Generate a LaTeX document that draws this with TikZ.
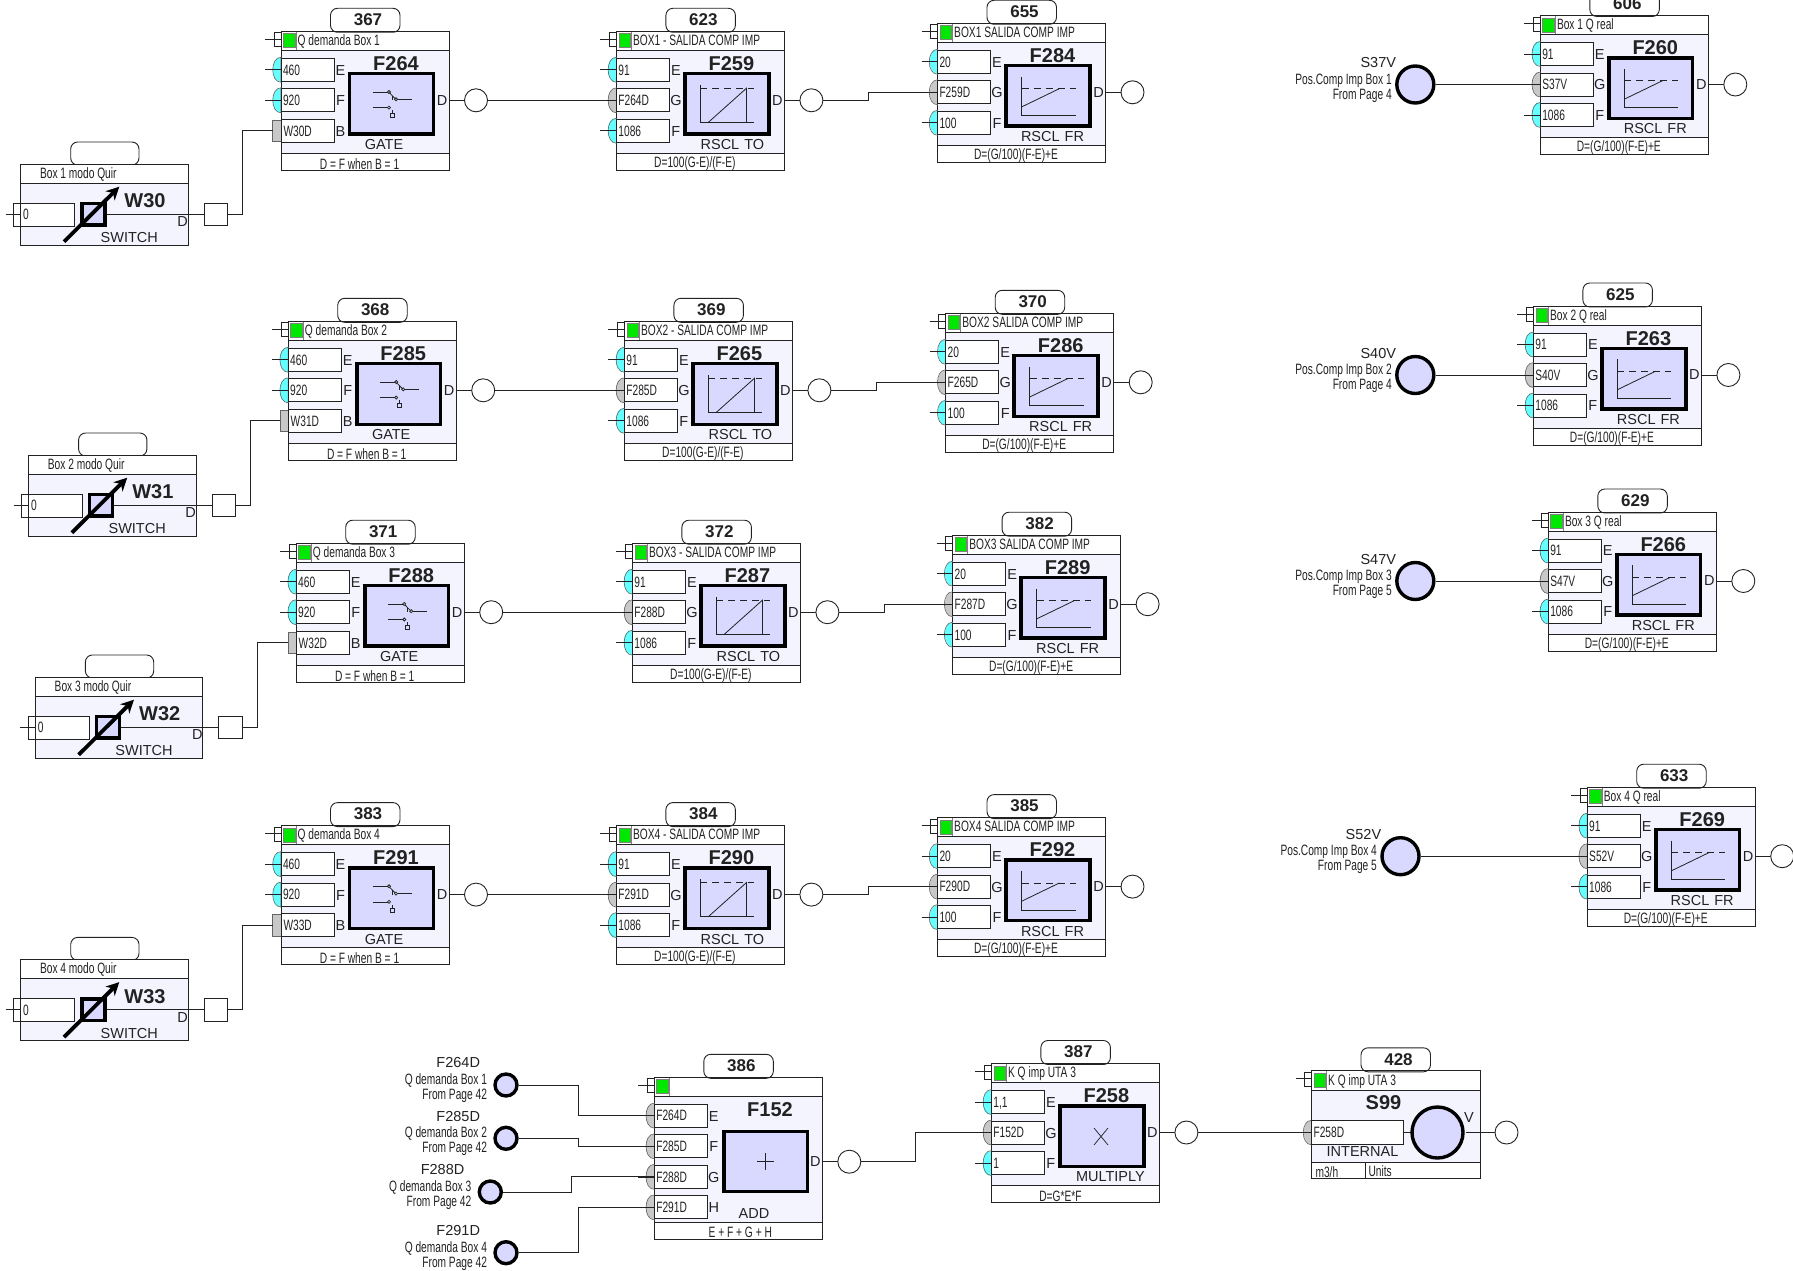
\documentclass[tikz,border=0pt]{standalone}
\usepackage{fontspec}
\setmainfont{Liberation Sans}
\newfontfamily\narrowf[FakeStretch=0.68]{Liberation Sans}
\usetikzlibrary{arrows.meta}
\definecolor{bodyc}{HTML}{F4F4FF}
\definecolor{iconc}{HTML}{D9D9FF}
\definecolor{cyanc}{HTML}{66FFFF}
\definecolor{grayc}{HTML}{C8C8C8}
\definecolor{greenc}{HTML}{00E800}
\definecolor{linec}{HTML}{222222}
\newcommand\nrw{\narrowf\fontsize{15}{15}\selectfont}
\newcommand\reg{\fontsize{14.5}{14.5}\selectfont}
\tikzset{
  ln/.style={draw=linec,line width=0.8pt},
  wire/.style={draw=linec,line width=0.9pt},
  boxln/.style={draw=linec,line width=0.9pt},
  txtn/.style={inner sep=0pt,outer sep=0pt,font=\nrw,text=linec},
  txtr/.style={inner sep=0pt,outer sep=0pt,font=\reg,text=linec},
  titlet/.style={inner sep=0pt,outer sep=0pt,font=\fontsize{20}{20}\selectfont\bfseries,text=linec},
  tagt/.style={inner sep=0pt,outer sep=0pt,font=\fontsize{17}{17}\selectfont\bfseries,text=linec},
  outc/.style={circle,draw=linec,line width=0.9pt,fill=white,minimum size=23pt,inner sep=0pt},
  outs/.style={rectangle,draw=linec,line width=0.9pt,fill=white,minimum width=23.7pt,minimum height=22.7pt,inner sep=0pt},
  srcc/.style={circle,draw=black,line width=3.4pt,fill=iconc,inner sep=0pt},
  iconb/.style={draw=black,line width=3.6pt,fill=iconc},
  ic/.style={draw=linec,line width=0.8pt},
  tagb/.style={draw=linec,line width=0.9pt,fill=white,rounded corners=7pt},
}
% tag, header stub and green light: id, tag, header
\newcommand\taghead[3]{%
  \draw[tagb] (49.5,-23) rectangle (119,1);
  \node[tagt] (#1-tag) at (87,-11.5) {#2};
  \draw[ln] (-16,8) -- (0,8);
  \draw[ln] (0,1.5) -- (-7,1.5) -- (-7,15.5) -- (0,15.5);
  \fill[greenc,draw=gray,line width=0.7pt] (2.5,2.5) rectangle (14,16.5);
  \draw[gray,line width=0.7pt] (15,0) -- (15,19);
  \node[txtn,anchor=base west] (#1-head) at (16.7,14.3) {#3};
}
% general block: id, x, y, tag, header, title, type label, label x, footer
\newcommand\blockbase[9]{%
  \begin{scope}[shift={(#2,#3)}]
  \taghead{#1}{#4}{#5}
  \path[fill=bodyc] (0,19) rectangle (168,122);
  \path[fill=white] (0,122) rectangle (168,139);
  \draw[boxln] (0,0) rectangle (168,139);
  \draw[boxln] (0,19) -- (168,19);
  \draw[boxln] (0,122) -- (168,122);
  \draw[iconb] (68.5,42.3) rectangle (152.3,103);
  \node[titlet] (#1-title) at (115,32.5) {#6};
  \node[txtr] (#1-type) at (#8,113.5) {#7};
  \node[txtn] (#1-foot) at (78.5,132.5) {#9};
  \node[txtr] (#1-dl) at (161,69) {D};
  \draw[ln] (168,69) -- (185,69);
  \node[outc] (#1-out) at (195,69) {};
  \end{scope}%
}
% input row: id, port, x0, y centre abs, text, colour
\newcommand\inrow[6]{%
  \begin{scope}[shift={(#3,#4)}]
  \filldraw[fill=#6,draw=linec!70,line width=0.6pt] (0,-12.5) .. controls (-11,-12.5) and (-11,12.5) .. (0,12.5) -- cycle;
  \draw[ln] (-16,0) -- (0,0);
  \coordinate (#1-#2) at (0,0);
  \draw[boxln,fill=white] (0,-11.5) rectangle (53,11.5);
  \node[txtn,anchor=base west] (#1-#2v) at (2,5.3) {#5};
  \node[txtr] (#1-#2l) at (59.5,0.5) {#2};
  \end{scope}%
}
\newcommand\inB[5]{%
  \begin{scope}[shift={(#3,#4)}]
  \filldraw[fill=grayc,draw=linec!70,line width=0.6pt] (-8.3,-10.7) rectangle (0,10.7);
  \coordinate (#1-#2) at (-8.3,0);
  \draw[boxln,fill=white] (0,-11.5) rectangle (53,11.5);
  \node[txtn,anchor=base west] (#1-#2v) at (2.5,5.3) {#5};
  \node[txtr] (#1-#2l) at (59.5,0.5) {#2};
  \end{scope}%
}
\newcommand\gateicon[2]{%
  \begin{scope}[shift={(#1+68,#2+41)}]
  \draw[ic] (23.7,19.7) -- (38.5,19.7);
  \draw[ic] (23.7,35.3) -- (38.5,35.3);
  \draw[ic] (48.6,27) -- (63,27);
  \draw[ic,fill=white] (40,19.7) circle (1.5);
  \draw[ic,fill=white] (40,35.3) circle (1.5);
  \draw[ic,fill=white] (47,27) circle (1.5);
  \draw[ic] (41,21) -- (45.8,26);
  \draw[ic] (43.5,23.5) -- (43.5,28);
  \draw[ic] (41.5,41.3) rectangle (45.5,45.3);
  \draw[ic] (43.5,38) -- (43.5,41.3);
  \end{scope}%
}
\newcommand\toicon[2]{%
  \begin{scope}[shift={(#1+68,#2+41)}]
  \draw[ic] (16,12.7) -- (16,50) -- (70,50);
  \draw[ic,dash pattern=on 7pt off 5pt] (16,16) -- (70,16);
  \draw[ic] (24,50) -- (62,16) -- (62,50);
  \end{scope}%
}
\newcommand\fricon[2]{%
  \begin{scope}[shift={(#1+68,#2+41)}]
  \draw[ic] (16,12.3) -- (16,51.3) -- (70,51.3);
  \draw[ic,dash pattern=on 7pt off 5pt] (16,24.3) -- (70,24.3);
  \draw[ic] (16,42.7) -- (54,24.3);
  \end{scope}%
}
% gate: id,x,y,tag,header,title,in3 text
\newcommand\gateblock[7]{%
  \blockbase{#1}{#2}{#3}{#4}{#5}{#6}{GATE}{103}{D = F when B = 1}
  \inrow{#1}{E}{#2}{#3+38.5}{460}{cyanc}
  \inrow{#1}{F}{#2}{#3+69}{920}{cyanc}
  \inB{#1}{B}{#2}{#3+99.5}{#7}
  \gateicon{#2}{#3}
}
% to: id,x,y,tag,header,title,G text
\newcommand\toblock[7]{%
  \blockbase{#1}{#2}{#3}{#4}{#5}{#6}{RSCL\hspace{5pt}TO}{116}{D=100(G-E)/(F-E)}
  \inrow{#1}{E}{#2}{#3+38.5}{91}{cyanc}
  \inrow{#1}{G}{#2}{#3+69}{#7}{grayc}
  \inrow{#1}{F}{#2}{#3+99.5}{1086}{cyanc}
  \toicon{#2}{#3}
}
% fr: id,x,y,tag,header,title,G text,E text,F text
\newcommand\frblock[9]{%
  \blockbase{#1}{#2}{#3}{#4}{#5}{#6}{RSCL\hspace{5pt}FR}{115}{D=(G/100)(F-E)+E}
  \inrow{#1}{E}{#2}{#3+38.5}{#8}{cyanc}
  \inrow{#1}{G}{#2}{#3+69}{#7}{grayc}
  \inrow{#1}{F}{#2}{#3+99.5}{#9}{cyanc}
  \fricon{#2}{#3}
}
% switch: id,x,y,header,title
\newcommand\switchblock[5]{%
  \begin{scope}[shift={(#2,#3)}]
  \draw[tagb] (50,-22) rectangle (118.3,1);
  \path[fill=white] (0,0) rectangle (167.5,19);
  \path[fill=bodyc] (0,19) rectangle (167.5,81);
  \draw[boxln] (0,0) rectangle (167.5,81);
  \draw[boxln] (0,19) -- (167.5,19);
  \node[txtn] (#1-head) at (57.6,10) {#4};
  \draw[ln] (-15,50.3) -- (0,50.3);
  \draw[ln] (0,39.3) -- (-7.3,39.3) -- (-7.3,62) -- (0,62);
  \draw[boxln,fill=white] (0,39.3) rectangle (53.6,62);
  \node[txtn,anchor=base west] (#1-v) at (2.5,55.8) {0};
  \draw[ln] (84,50.3) -- (167.5,50.3);
  \draw[iconb] (61,39.6) rectangle (84,61);
  \draw[line width=3.8pt,black,-{Stealth[length=13pt,width=13pt]}] (43.3,77.7) -- (98.6,22.7);
  \node[titlet] (#1-title) at (124.3,37) {#5};
  \node[txtr] (#1-type) at (108.6,74) {SWITCH};
  \node[txtr] (#1-dl) at (162,57.7) {D};
  \draw[ln] (167.5,50.3) -- (183.3,50.3);
  \node[outs] (#1-out) at (195.2,50.3) {};
  \end{scope}%
}
% large source: id,x,y,name,line2,line3
\newcommand\srcbig[6]{%
  \node[srcc,minimum size=37pt] (#1) at (#2,#3) {};
  \node[txtr,anchor=east] (#1-a) at (#2-19.3,#3-21.6) {#4};
  \node[txtn,anchor=east] (#1-b) at (#2-23.6,#3-4) {#5};
  \node[txtn,anchor=east] (#1-c) at (#2-23.6,#3+11) {#6};
}
\newcommand\srcsmall[6]{%
  \node[srcc,minimum size=22pt] (#1) at (#2,#3) {};
  \node[txtr,anchor=east] (#1-a) at (#2-26,#3-22.3) {#4};
  \node[txtn,anchor=east] (#1-b) at (#2-19,#3-4.7) {#5};
  \node[txtn,anchor=east] (#1-c) at (#2-19,#3+11) {#6};
}
\begin{document}
\begin{tikzpicture}[x=1pt,y=-1pt]
\useasboundingbox[fill=white] (0,0) rectangle (1793,1271);
% ---- Row 1
\switchblock{W30}{20.7}{164}{Box 1 modo Quir}{W30}
\gateblock{F264}{281}{31.3}{367}{Q demanda Box 1}{F264}{W30D}
\toblock{F259}{616.4}{31.3}{623}{BOX1 - SALIDA COMP IMP}{F259}{F264D}
\frblock{F284}{937.5}{23.3}{655}{BOX1 SALIDA COMP IMP}{F284}{F259D}{20}{100}
\srcbig{S37V}{1415.3}{84.5}{S37V}{Pos.Comp Imp Box 1}{From Page 4}
\frblock{F260}{1540.3}{15.5}{606}{Box 1 Q real}{F260}{S37V}{91}{1086}
% ---- Row 2
\switchblock{W31}{28.6}{455}{Box 2 modo Quir}{W31}
\gateblock{F285}{288.2}{321.3}{368}{Q demanda Box 2}{F285}{W31D}
\toblock{F265}{624.4}{321.3}{369}{BOX2 - SALIDA COMP IMP}{F265}{F285D}
\frblock{F286}{945.7}{313.3}{370}{BOX2 SALIDA COMP IMP}{F286}{F265D}{20}{100}
\srcbig{S40V}{1415.3}{375}{S40V}{Pos.Comp Imp Box 2}{From Page 4}
\frblock{F263}{1533.4}{306}{625}{Box 2 Q real}{F263}{S40V}{91}{1086}
% ---- Row 3
\switchblock{W32}{35.4}{677}{Box 3 modo Quir}{W32}
\gateblock{F288}{296.2}{543.2}{371}{Q demanda Box 3}{F288}{W32D}
\toblock{F287}{632.4}{543.2}{372}{BOX3 - SALIDA COMP IMP}{F287}{F288D}
\frblock{F289}{952.6}{535.2}{382}{BOX3 SALIDA COMP IMP}{F289}{F287D}{20}{100}
\srcbig{S47V}{1415.3}{581}{S47V}{Pos.Comp Imp Box 3}{From Page 5}
\frblock{F266}{1548.3}{512}{629}{Box 3 Q real}{F266}{S47V}{91}{1086}
% ---- Row 4
\switchblock{W33}{20.7}{959.4}{Box 4 modo Quir}{W33}
\gateblock{F291}{281}{825.6}{383}{Q demanda Box 4}{F291}{W33D}
\toblock{F290}{616.4}{825.6}{384}{BOX4 - SALIDA COMP IMP}{F290}{F291D}
\frblock{F292}{937.5}{817.6}{385}{BOX4 SALIDA COMP IMP}{F292}{F290D}{20}{100}
\srcbig{S52V}{1400.5}{856.2}{S52V}{Pos.Comp Imp Box 4}{From Page 5}
\frblock{F269}{1587.2}{787.2}{633}{Box 4 Q real}{F269}{S52V}{91}{1086}
% ---- Bottom: F152
\srcsmall{sF264}{506}{1085}{F264D}{Q demanda Box 1}{From Page 42}
\srcsmall{sF285}{506}{1138.3}{F285D}{Q demanda Box 2}{From Page 42}
\srcsmall{sF288}{490.3}{1192}{F288D}{Q demanda Box 3}{From Page 42}
\srcsmall{sF291}{506}{1252.7}{F291D}{Q demanda Box 4}{From Page 42}
\begin{scope}[shift={(654.3,1077.3)}]
  \taghead{F152}{386}{}
  \path[fill=bodyc] (0,19) rectangle (168,145);
  \path[fill=white] (0,145) rectangle (168,162);
  \draw[boxln] (0,0) rectangle (168,162);
  \draw[boxln] (0,19) -- (168,19);
  \draw[boxln] (0,145) -- (168,145);
  \draw[iconb] (69.5,54) rectangle (153,114);
  \node[titlet] (F152-title) at (115.7,32) {F152};
  \node[txtr] (F152-type) at (99.7,136) {ADD};
  \node[txtn] (F152-foot) at (86,154.8) {E + F + G + H};
  \draw[ln,line width=0.7pt] (103,84.4) -- (120,84.4) (111.5,76) -- (111.5,93);
  \node[txtr] (F152-dl) at (161,84.4) {D};
  \draw[ln] (168,84.4) -- (185,84.4);
  \node[outc] (F152-out) at (195,84.4) {};
\end{scope}
\inrow{F152}{E}{654.3}{1115.6}{F264D}{grayc}
\inrow{F152}{F}{654.3}{1146.3}{F285D}{grayc}
\inrow{F152}{G}{654.3}{1176.9}{F288D}{grayc}
\inrow{F152}{H}{654.3}{1207.3}{F291D}{grayc}
% ---- F258
\blockbase{F258}{991.4}{1063.5}{387}{K Q imp UTA 3}{F258}{MULTIPLY}{119}{}
\node[txtn] (F258-formula) at (1060.4,1196) {D=G*E*F};
\inrow{F258}{E}{991.4}{1102}{1,1}{cyanc}
\inrow{F258}{G}{991.4}{1132.5}{F152D}{grayc}
\inrow{F258}{F}{991.4}{1163}{1}{cyanc}
\draw[ln,line width=0.7pt] (1094,1128) -- (1108,1145) (1108,1128) -- (1094,1145);
% ---- S99
\begin{scope}[shift={(1311.5,1070.8)}]
  \taghead{S99}{428}{K Q imp UTA 3}
  \path[fill=bodyc] (0,19.3) rectangle (168.5,92);
  \path[fill=white] (0,92) rectangle (168.5,107.3);
  \draw[boxln] (0,0) rectangle (168.5,107.3);
  \draw[boxln] (0,19.3) -- (168.5,19.3);
  \draw[boxln] (0,92) -- (168.5,92);
  \draw[boxln] (54,92) -- (54,107.3);
  \node[titlet] (S99-title) at (72,31.7) {S99};
  \node[txtr] (S99-type) at (51,80.7) {INTERNAL};
  \node[txtn,anchor=base west] (S99-unit) at (4,106.8) {m3/h};
  \node[txtn,anchor=base west] (S99-ulab) at (57,106) {Units};
  \filldraw[fill=grayc,draw=linec!70,line width=0.6pt] (0,49.5) .. controls (-11,49.5) and (-11,74) .. (0,74) -- cycle;
  \coordinate (S99-I) at (0,61.7);
  \draw[boxln,fill=white] (0,50) rectangle (92,73.3);
  \node[txtn,anchor=base west] (S99-Iv) at (2,67) {F258D};
  \draw[ln] (92,61.7) -- (100,61.7);
  \node[srcc,minimum size=51pt] (S99-c) at (126,61.7) {};
  \node[txtr] (S99-V) at (157.5,46.7) {V};
  \draw[ln] (154,61.7) -- (185,61.7);
  \node[outc] (S99-out) at (195,61.7) {};
\end{scope}
% ---- Wires
\draw[wire] (W30-out.east) -- ++(14.6,0) |- (F264-B);
\draw[wire] (W31-out.east) -- ++(14.6,0) |- (F285-B);
\draw[wire] (W32-out.east) -- ++(14.6,0) |- (F288-B);
\draw[wire] (W33-out.east) -- ++(14.6,0) |- (F291-B);
\draw[wire] (F264-out.east) -- (F259-G);
\draw[wire] (F285-out.east) -- (F265-G);
\draw[wire] (F288-out.east) -- (F287-G);
\draw[wire] (F291-out.east) -- (F290-G);
\draw[wire] (F259-out.east) -- ++(45,0) |- (F284-G);
\draw[wire] (F265-out.east) -- ++(45,0) |- (F286-G);
\draw[wire] (F287-out.east) -- ++(45,0) |- (F289-G);
\draw[wire] (F290-out.east) -- ++(45,0) |- (F292-G);
\draw[wire] (S37V.east) -- (F260-G);
\draw[wire] (S40V.east) -- (F263-G);
\draw[wire] (S47V.east) -- (F266-G);
\draw[wire] (S52V.east) -- (F269-G);
\draw[wire] (sF264.east) -- ++(60,0) |- (F152-E);
\draw[wire] (sF285.east) -- ++(60,0) |- (F152-F);
\draw[wire] (sF288.east) -- ++(68,0) |- (F152-G);
\draw[wire] (sF291.east) -- ++(60,0) |- (F152-H);
\draw[wire] (F152-out.east) -- ++(54,0) |- (F258-G);
\draw[wire] (F258-out.east) -- (S99-I);
\end{tikzpicture}
\end{document}
